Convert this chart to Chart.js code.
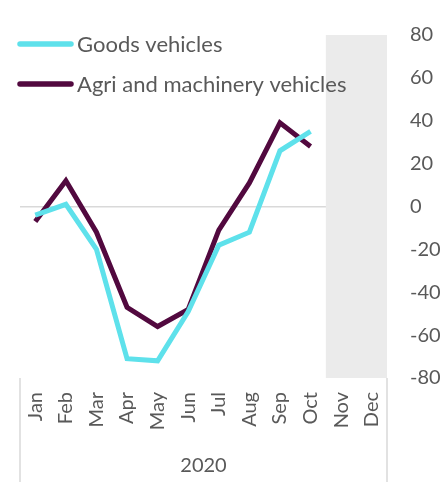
<!doctype html>
<html lang="en">
  <head>
    <meta charset="utf-8">
    <title>Goods and agri vehicles 2020</title>
    <style>
      * { margin: 0; padding: 0; }
      body { background: #fff; }
      .chartBox { width: 445px; height: 482px; }
    </style>
  </head>
  <body>
    <div class="chartBox"><canvas id="myChart"></canvas></div>
    <script src="https://cdn.jsdelivr.net/npm/chart.js/dist/chart.umd.min.js"></script>
    <script>
    // data
    const months = ['Jan', 'Feb', 'Mar', 'Apr', 'May', 'Jun', 'Jul', 'Aug', 'Sep', 'Oct', 'Nov', 'Dec'];
    const goodsVehicles = [-4, 1, -20, -71, -72, -49, -18, -12, 26, 35, null, null];
    const agriVehicles = [-7, 12, -12, -47, -56, -48, -11, 11, 39, 28, null, null];
    const yearLabel = '2020';
    const shadedFrom = 10; // Nov onwards

    const textColor = '#595959';
    const fontFamily = 'Lato, sans-serif';

    // grey band behind Nov-Dec, legend and the category separators
    const extras = {
      id: 'extras',
      beforeDatasetsDraw(chart) {
        const { ctx, chartArea, scales: { x } } = chart;
        const left = (x.getPixelForValue(shadedFrom - 1) + x.getPixelForValue(shadedFrom)) / 2;
        ctx.save();
        ctx.fillStyle = '#ebebeb';
        ctx.fillRect(left, chartArea.top, chartArea.right - left, chartArea.bottom - chartArea.top);
        ctx.restore();
      },
      afterDraw(chart) {
        const { ctx, chartArea } = chart;
        ctx.save();
        ctx.strokeStyle = '#d9d9d9';
        ctx.lineWidth = 1.5;
        [chartArea.left, chartArea.right].forEach(px => {
          ctx.beginPath();
          ctx.moveTo(px, chartArea.bottom);
          ctx.lineTo(px, chart.height);
          ctx.stroke();
        });
        // legend
        ctx.font = '22px ' + fontFamily;
        ctx.textBaseline = 'middle';
        chart.data.datasets.forEach((ds, i) => {
          const y = 44 + i * 40;
          ctx.strokeStyle = ds.borderColor;
          ctx.lineWidth = 5.5;
          ctx.lineCap = 'round';
          ctx.beginPath();
          ctx.moveTo(20, y);
          ctx.lineTo(71, y);
          ctx.stroke();
          ctx.fillStyle = textColor;
          ctx.fillText(ds.label, 77, y + 1);
        });
        ctx.restore();
      }
    };

    const data = {
      labels: months,
      datasets: [
        {
          label: 'Goods vehicles',
          data: goodsVehicles,
          borderColor: '#5ee1eb',
          backgroundColor: '#5ee1eb',
          borderWidth: 5,
          pointRadius: 0,
          tension: 0
        },
        {
          label: 'Agri and machinery vehicles',
          data: agriVehicles,
          borderColor: '#52093f',
          backgroundColor: '#52093f',
          borderWidth: 5,
          pointRadius: 0,
          tension: 0
        }
      ]
    };

    const config = {
      type: 'line',
      data,
      plugins: [extras],
      options: {
        responsive: true,
        maintainAspectRatio: false,
        animation: false,
        layout: { padding: { top: 25, left: 20, right: 0, bottom: 0 } },
        plugins: {
          legend: { display: false },
          tooltip: { enabled: false }
        },
        scales: {
          x: {
            offset: true,
            border: { display: false },
            grid: { display: false, drawTicks: false },
            afterFit(scale) { scale.height = 104; },
            ticks: {
              autoSkip: false,
              maxRotation: 90,
              minRotation: 90,
              padding: 14,
              color: textColor,
              font: { family: fontFamily, size: 20 }
            },
            title: {
              display: true,
              text: yearLabel,
              color: textColor,
              font: { family: fontFamily, size: 20 },
              padding: { top: 4, bottom: 4 }
            }
          },
          y: {
            position: 'right',
            min: -80,
            max: 80,
            border: { display: false },
            afterFit(scale) { scale.width = 58; },
            grid: {
              drawTicks: false,
              lineWidth: 1.5,
              color: c => c.tick && c.tick.value === 0 ? '#d9d9d9' : 'rgba(0,0,0,0)'
            },
            ticks: {
              stepSize: 20,
              padding: 23,
              color: textColor,
              font: { family: fontFamily, size: 20 }
            }
          }
        }
      }
    };

    const myChart = new Chart(document.getElementById('myChart'), config);
    </script>
  </body>
</html>
